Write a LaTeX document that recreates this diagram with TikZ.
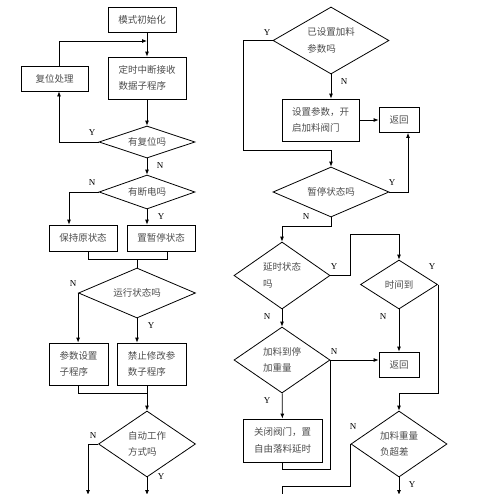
\documentclass[tikz,border=0pt]{standalone}
\usepackage{fontspec}
\setmainfont{Liberation Serif}
\newfontfamily\cjk{Noto Sans CJK SC}
\usetikzlibrary{shapes.geometric,arrows.meta,calc}

\begin{document}
\begin{tikzpicture}[x=1pt,y=-1pt,>={Latex[length=5pt,width=4pt]},line width=0.8pt,
    box/.style={draw,rectangle,inner sep=0pt,align=left,text=black!70,
        font=\cjk\fontsize{9.5}{16.5}\selectfont},
    ask/.style={draw,diamond,aspect=2,inner sep=0pt,align=left,text=black!70,
        font=\cjk\fontsize{9.5}{16.5}\selectfont},
    yn/.style={inner sep=0pt,font=\fontsize{9}{10}\selectfont}]

\useasboundingbox (0,0) rectangle (501,493);

% left column: start and reset loop
\node[box,minimum width=68pt,minimum height=25pt] (init) at (142,19.5) {模式初始化};

\node[box,minimum width=78pt,minimum height=42pt] (timer) at (147,78) {定时中断接收\\数据子程序};

\node[box,minimum width=67pt,minimum height=25pt] (reset) at (54.5,78.5) {复位处理};

\node[ask,minimum width=96pt,minimum height=32pt] (chkreset) at (147,142) {有复位吗};

\coordinate (rx) at (59,0);
\coordinate (back) at (147,41);

\draw[->] (init.south -| timer.north) -- (timer.north);

\draw[->] (timer) -- (chkreset);

\draw[->] (chkreset.west) -| (rx |- reset.south);

\draw[->] (rx |- reset.north) |- (back);

\node[yn] (y1) at (92,133) {Y};

\node[yn] (n1) at (160,166) {N};

% power failure
\node[ask,minimum width=96pt,minimum height=34pt] (chkpower) at (147,192) {有断电吗};

\node[box,minimum width=68pt,minimum height=26pt] (keep) at (83,238) {保持原状态};

\node[box,minimum width=68pt,minimum height=26pt] (pause) at (161,238) {置暂停状态};

\coordinate (kx) at (69,0);

\draw[->] (chkreset) -- (chkpower);

\draw[->] (chkpower.west) -| (kx |- keep.north);

\draw[->] (chkpower.south) -- (chkpower.south |- pause.north);

\node[yn] (n2) at (92,183) {N};

\node[yn] (y2) at (161,217) {Y};

% running state
\node[ask,minimum width=117pt,minimum height=50pt] (run) at (137,293) {运行状态吗};

\coordinate (m1) at (137,259);

\draw ($(keep.south)+(5,0)$) |- (m1);

\draw ($(pause.south)+(6,0)$) |- (m1);

\draw (m1) -- (run.north);

\node[box,minimum width=59pt,minimum height=42pt] (param) at (78.5,364) {参数设置\\子程序};

\node[box,minimum width=69pt,minimum height=42pt] (lock) at (151.5,364) {禁止修改参\\数子程序};

\draw[->] (run.west) -- (run.west |- param.north);

\draw[->] (run.south) -- (run.south |- lock.north);

\node[yn] (n3) at (73,284) {N};

\node[yn] (y3) at (151,326) {Y};

% automatic mode
\node[ask,minimum width=97pt,minimum height=66pt] (auto) at (147,444) {自动工作\\方式吗};

\coordinate (m2) at (147,393);
\coordinate (out1) at (88,495);
\coordinate (out2) at (147,495);

\draw (param.south) |- (m2);

\draw (lock.south -| m2) -- (m2);

\draw[->] (m2) -- (auto.north);

\draw[->] (auto.west) -| (out1);

\draw[->] (auto.south) -- (out2);

\node[yn] (n4) at (93,436) {N};

\node[yn] (y4) at (161,477) {Y};

% right column: feed parameters
\node[ask,minimum width=116pt,minimum height=67pt] (setq) at (331,40.5) {已设置加料\\参数吗};

\node[box,minimum width=77pt,minimum height=42pt] (setp) at (320.5,120) {设置参数，开\\启加料阀门};

\node[box,minimum width=40pt,minimum height=25pt] (ret1) at (399,120) {返回};

\node[ask,minimum width=116pt,minimum height=50pt] (pausq) at (331,192) {暂停状态吗};

\coordinate (c1) at (243,150);

\draw[->] (setq.south) -- (setq.south |- setp.north);

\draw[->] (setp) -- (ret1);

\draw[->] (setq.west) -| (c1) -| (pausq.north);

\draw[->] (pausq.east) -| ($(ret1.south)+(9,0)$);

\node[yn] (y5) at (267,33) {Y};

\node[yn] (n5) at (344,82) {N};

\node[yn] (y6) at (392,183) {Y};

\node[yn] (n6) at (306,217) {N};

% delay and timer
\node[ask,minimum width=96pt,minimum height=67pt] (delq) at (282,275.5) {延时状态\\吗};

\node[ask,minimum width=77pt,minimum height=49pt] (timeq) at (399,284.5) {时间到};

\coordinate (c2) at (350,234);

\draw[->] (pausq.south) -- ++(0,9) -| (delq.north);

\draw[->] (delq.east) -| (c2) -| (timeq.north);

\node[yn] (y7) at (334,267) {Y};

\node[yn] (y8) at (432,267) {Y};

\node[yn] (n7) at (383,317) {N};

\node[yn] (n8) at (267,317) {N};

% feed weight reached
\node[ask,minimum width=96pt,minimum height=66pt] (stopq) at (282,360) {加料到停\\加重量};

\node[box,minimum width=40pt,minimum height=25pt] (ret2) at (399,364.5) {返回};

\node[box,minimum width=79pt,minimum height=43pt] (close) at (282.5,440.5) {关闭阀门，置\\自由落料延时};

\node[ask,minimum width=96pt,minimum height=66pt] (loadq) at (399,444) {加料重量\\负超差};

\coordinate (c3) at (399,393);
\coordinate (out3) at (282,495);
\coordinate (out4) at (399,495);

\draw[->] (delq) -- (stopq);

\draw[->] (timeq.south) -- (timeq.south |- ret2.north);

\draw[->] (timeq.east) |- (c3) -- (loadq.north);

\draw[->] (stopq.east) -- (stopq.east -| ret2.west);

\draw[->] (stopq) -- (close);

\draw (close.south) -- ++(0,7) -| (stopq.east);

\draw (loadq.west) -- ++(0,42) -| (out3);

\draw[->] (loadq.south) -- (out4);

\node[yn] (n9) at (334,352) {N};

\node[yn] (y9) at (267,401) {Y};

\node[yn] (n10) at (353,427) {N};

\node[yn] (y10) at (412,485) {Y};

\end{tikzpicture}
\end{document}
